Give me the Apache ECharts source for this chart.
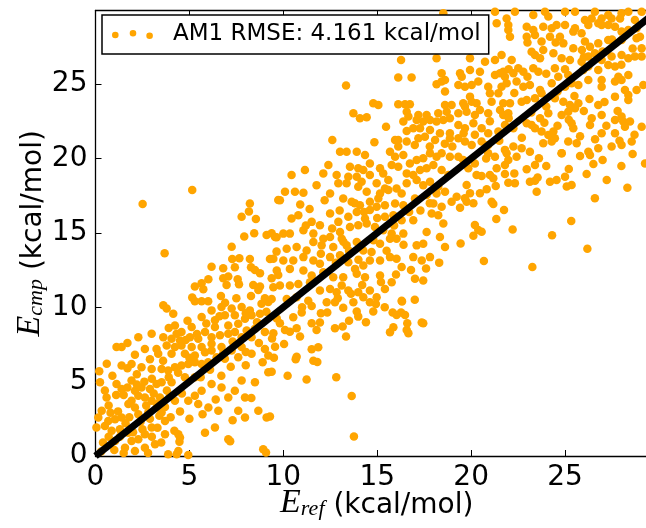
<!DOCTYPE html>
<html>
<head>
<meta charset="utf-8">
<script src="https://cdn.jsdelivr.net/npm/echarts@6/dist/echarts.min.js"></script>
<style>
  html, body { margin: 0; padding: 0; background: #fff; }
  #chart { width: 646px; height: 528px; }
</style>
</head>
<body>
<div id="chart"></div>
<script>
// axis setup
const axisMin = 0
const axisMax = 29.95
const tickStep = 5
const seriesName = 'AM1 RMSE: 4.161 kcal/mol'
const refLine = [[0, 0], [30, 30]]

// points, [E_ref, E_cmp], grouped by region
const lowPoints = [
  [3.61,10.13],[4.14,9.57],[3.79,9.91],[5.29,10.40],[5.65,10.40],[6.71,10.02],[7.25,9.91],[7.78,10.02],
  [8.22,9.79],[8.84,10.24],[9.20,10.36],[5.65,9.34],[6.18,9.79],[6.36,9.12],[6.89,9.46],[7.42,9.46],
  [7.96,9.23],[8.31,9.46],[8.76,9.57],[4.23,8.78],[4.58,8.33],[4.32,8.22],[5.12,8.67],[5.83,8.33],
  [6.36,8.67],[7.07,8.78],[7.60,8.89],[8.05,8.44],[8.49,8.56],[9.02,8.33],[2.28,7.99],[2.99,8.22],
  [3.61,7.99],[4.05,7.88],[4.50,7.77],[5.03,7.99],[5.47,7.88],[6.18,7.99],[6.63,8.11],[7.07,8.22],
  [7.42,8.33],[7.78,7.99],[8.31,7.99],[1.12,7.32],[1.39,7.32],[2.63,7.20],[3.25,7.20],[3.79,7.43],
  [4.23,7.32],[4.58,7.43],[5.12,7.32],[5.65,7.32],[6.18,7.54],[6.71,7.32],[7.25,7.09],[7.78,7.32],
  [3.34,6.87],[4.05,6.87],[4.76,6.87],[5.29,6.75],[5.83,6.98],[6.18,7.09],[6.45,6.64],[6.89,6.53],
  [7.60,6.64],[8.31,6.87],[9.02,7.20],[9.20,6.75],[1.39,6.08],[1.92,6.19],[2.45,5.97],[2.99,5.85],
  [3.52,5.85],[3.87,5.74],[4.23,5.97],[4.58,6.08],[4.94,6.19],[5.29,6.30],[5.65,6.19],[0.24,4.95],
  [0.59,3.94],[1.12,4.84],[1.39,4.50],[1.92,5.07],[2.10,4.39],[2.45,4.61],[2.90,4.50],[3.25,4.84],
  [3.52,4.95],[4.05,4.95],[4.76,5.29],[5.29,5.29],[2.28,4.05],[2.63,3.94],[2.99,3.71],[3.43,3.94],
  [3.96,4.05],[4.23,3.71],[1.92,3.71],[1.75,3.49],[0.33,3.04],[0.15,2.59],[0.68,2.36],[1.04,2.47],
  [1.39,2.59],[2.10,3.26],[2.28,2.81],[2.81,2.92],[3.25,3.26],[3.52,2.92],[3.70,2.36],[2.99,1.91],
  [2.63,1.46],[0.05,1.91],[0.50,2.02],[0.86,1.69],[1.30,1.80],[1.75,1.57],[1.92,1.01],[2.28,1.12],
  [1.04,1.01],[1.57,0.56],[2.10,0.34],[2.63,0.56],[3.17,0.79],[3.70,1.46],[3.87,0.11],[4.41,0.34],
  [1.20,3.00],[1.60,2.20],[2.40,2.30],[2.00,1.60],[2.90,2.50],[3.30,1.90],[3.00,1.30],[3.50,0.90],
  [1.00,0.40],[0.40,0.90],[0.80,2.90],[1.50,4.10],[2.70,3.40],[3.10,4.20],[3.70,3.30],[4.00,2.60],
  [4.50,3.00],[0.50,4.40],[2.20,5.50],[1.70,5.90],[3.00,5.20],[4.40,5.60],[0.90,5.40]
]

const lowFill = [
  [1.30,1.30],[1.80,2.60],[2.50,1.80],[3.40,2.70],[2.20,4.80],[3.80,4.40],[0.70,3.40],[1.10,4.10],
  [2.60,5.00],[3.90,5.30],[4.60,4.20],[4.20,1.70],[0.30,0.30],[0.70,1.30],[1.50,0.20],[2.80,0.20],
  [3.30,3.50],[1.70,4.60],[2.90,6.50],[3.60,6.40],[2.10,6.80],[4.80,7.80],[5.40,8.20],[3.90,8.60],
  [4.90,9.10],[6.00,10.40],[6.90,10.30],[7.50,10.60],[8.00,9.60],[8.60,9.00],[9.10,9.70],[6.60,9.40],
  [5.90,8.90],[5.00,6.60],[6.00,6.30],[6.80,6.90],[7.30,7.70],[8.00,7.00],[8.70,7.60],[9.40,7.90],
  [5.60,5.30],[6.10,5.80],[6.70,5.40],[7.20,6.00],[8.00,6.10],[8.90,6.30],[9.50,6.60],[6.40,3.80],
  [7.30,2.40],[8.30,3.90],[5.00,2.50],[5.70,2.80],[0.20,5.70],[0.60,6.20],[1.70,7.60]
]

const lowBelow = [
  [4.94,3.71],[5.47,3.49],[6.01,3.26],[5.29,4.05],[5.65,4.39],[6.18,4.84],[6.71,4.61],[7.07,3.94],
  [7.42,4.39],[7.78,5.07],[8.49,4.95],[7.96,3.94],[7.60,3.04],[8.67,3.04],[9.20,5.63],[9.11,2.59],
  [7.96,2.59],[6.54,3.04],[5.83,1.57],[6.36,1.91],[7.07,1.12],[8.93,0.45],[4.41,1.46],[4.50,1.24],
  [4.32,0.11],[4.94,0.07],[9.08,0.24],[7.17,1.00],[4.47,0.95]
]

const leftUpper = [
  [2.51,16.94],[5.15,17.88],[3.68,13.63],[8.22,16.98],[9.73,17.21],[7.78,16.09],[8.17,16.43],[8.54,15.93],
  [7.92,14.75],[8.45,14.97],[9.11,14.86],[9.38,14.97],[9.64,14.70],[7.25,14.07],[7.28,13.24],[7.66,13.29],
  [8.22,13.24],[9.29,13.24],[9.64,13.74],[6.18,12.73],[6.80,12.62],[7.42,12.69],[8.28,12.69],
  [8.49,12.51],[8.76,12.28],[6.80,11.95],[7.07,12.06],[7.57,11.88],[6.01,11.88],[6.98,11.50],[7.64,11.54],
  [5.29,11.39],[5.65,11.61],[5.74,11.21],[8.40,11.50],[8.76,11.39],[9.38,11.95],[9.73,12.17],
  [5.15,10.65],[6.68,10.76],[8.28,10.76],[8.67,11.16],[9.02,10.60]
]

const midLow = [
  [13.64,4.04],[13.76,1.31],[12.82,5.29],[11.24,5.14],[10.23,5.40],[9.29,2.65],[17.37,8.97],[17.45,8.92],
  [15.68,8.32],[15.86,8.65],[16.57,8.47],[16.66,8.25],[16.60,8.92],[15.82,9.64],[16.03,9.48],[16.27,9.64],
  [16.48,9.48],[14.79,9.71],[14.93,10.22],[16.32,10.38],[13.91,9.71],[13.99,9.37],[13.50,9.10],[13.19,9.97],
  [13.16,8.70],[13.34,8.03],[12.75,8.59],[12.34,9.64],[11.51,8.92],[11.95,8.97],[11.77,8.47],[11.51,7.17],
  [11.86,7.31],[11.60,6.41],[11.81,6.32],[10.66,6.50],[10.71,6.68],[10.04,7.53],[9.56,7.35],[9.38,5.67],
  [10.53,9.33],[10.89,8.03],[10.98,9.64],[11.51,10.09],[9.65,9.25],[9.82,8.92],[10.09,8.47],[10.35,8.36],
  [10.71,8.59],[9.47,8.25]
]

const midPoints = [
  [13.02,20.46],[13.37,20.46],[13.91,20.46],[14.35,20.23],[15.68,20.46],[15.95,20.12],[15.77,19.56],[16.39,20.23],
  [16.74,19.67],[17.10,19.90],[17.45,20.01],[17.81,20.35],[18.16,20.12],[18.43,20.35],[18.87,20.12],
  [12.40,19.56],[13.55,19.45],[13.99,19.34],[14.26,19.23],[14.61,19.67],[15.15,19.34],[15.32,19.00],[15.59,18.55],
  [16.12,19.45],[16.57,19.00],[16.92,18.89],[17.28,19.23],[17.63,19.34],[17.99,19.56],[18.43,19.23],[18.79,18.89],
  [10.44,18.89],[11.15,19.23],[12.13,19.00],[12.84,18.89],[13.46,18.78],[13.91,18.78],[14.17,18.44],[14.61,18.89],
  [14.97,18.33],[15.41,17.99],[16.03,17.99],[16.57,18.33],[17.10,18.55],[17.45,18.21],[17.81,18.44],[18.25,18.10],
  [10.09,17.76],[10.62,17.76],[11.07,17.70],[11.77,18.21],[12.49,17.65],[12.93,18.33],[13.37,18.33],[13.99,18.10],
  [14.44,17.76],[15.15,17.65],[15.59,17.88],[16.30,17.65],[17.01,17.31],[17.63,17.54],[18.16,17.65],[18.61,17.76],
  [18.96,17.09],[9.82,17.20],[13.19,17.31],[13.64,17.09],[14.08,16.86],[14.61,17.09],[15.06,17.31],[15.41,16.86],
  [15.95,16.98],[16.39,16.86],[17.99,16.98],[18.43,16.75],
  [10.44,15.96],[10.80,16.19],[11.51,15.74],[11.95,15.51],[12.49,16.30],[12.93,15.74],[13.46,16.08],[13.91,16.41],
  [14.35,15.96],[14.61,16.53],[14.97,16.75],[15.41,16.08],[15.86,16.19],[16.30,15.85],[16.92,15.85],[17.90,16.30],
  [18.25,16.19],[18.52,15.63],
  [10.00,14.95],[10.35,14.95],[11.07,15.17],[11.60,14.95],[12.13,14.61],[12.49,14.72],[13.02,15.06],[13.55,15.40],
  [13.99,15.51],[14.44,15.63],[14.88,15.40],[15.32,15.17],[15.77,14.95],[16.39,14.95],[17.63,15.06],[18.34,14.72],
  [9.56,14.72],[10.18,13.94],[10.71,14.05],[11.24,13.82],[11.60,14.39],[12.04,14.16],[12.66,14.05],[13.11,14.61],
  [13.37,14.16],[13.91,14.39],[14.26,13.82],[14.70,13.71],[15.15,14.27],[15.68,14.61],[16.03,14.61],[17.10,14.16],
  [17.45,14.27],[18.61,14.05],
  [9.47,13.26],[10.00,13.15],[10.53,13.15],[11.07,13.37],[11.60,13.15],[11.95,12.92],[12.49,13.37],[13.02,13.49],
  [13.46,13.03],[13.82,12.58],[14.26,12.81],[14.61,13.15],[15.15,13.15],[15.68,13.37],[16.03,13.26],[16.30,12.70],
  [16.92,13.37],[17.37,13.15],[17.81,13.37],
  [9.65,12.47],[10.35,12.58],[11.07,12.47],[11.51,12.13],[12.13,12.36],[12.66,12.02],[13.19,12.02],[13.91,12.25],
  [14.35,12.02],[15.15,12.13],[15.77,11.68],[17.01,11.91],[17.45,11.80],
  [9.47,11.35],[9.82,11.46],[10.35,11.46],[10.80,11.57],[11.42,11.68],[11.95,11.12],[12.49,11.23],[12.84,11.01],
  [13.11,11.46],[13.46,11.12],[13.99,11.01],[14.61,11.12],[14.97,10.67],[15.41,11.23],[16.30,10.44],[14.26,10.67],
  [9.38,10.56],[10.18,10.56],[10.71,10.67],[11.33,10.44],[12.31,10.33],[12.75,10.33],[14.61,10.33],[13.73,10.33]
]

const midFill = [
  [12.00,13.60],[12.80,13.00],[13.50,13.80],[14.00,13.20],[14.80,14.50],[15.50,13.80],[16.40,14.20],[13.00,16.50],
  [13.80,17.00],[14.30,16.40],[15.00,16.00],[15.90,15.50],[16.70,16.40],[17.30,16.50],[17.80,17.00],[12.20,17.20],
  [11.40,16.60],[10.90,16.90],[11.20,15.50],[12.60,15.30],[13.20,14.40],[11.00,10.00],[12.00,9.60],[12.90,10.60],
  [13.60,10.90],[14.20,11.50],[15.20,11.70],[16.00,12.20],[16.80,12.50],[17.60,12.60],[18.30,13.00],[15.40,10.00],
  [14.40,9.00],[17.00,10.50]
]

const midUpper = [
  [16.27,26.62],[16.12,25.44],[16.83,25.44],[18.16,26.74],[18.43,25.73],[18.16,24.99],[18.43,25.17],[18.61,25.28],
  [18.61,24.50],[13.34,24.90],[14.79,23.71],[15.06,23.60],[16.12,23.64],[16.48,23.64],[16.74,23.64],[18.61,23.60],
  [18.96,23.60],[13.73,23.04],[14.08,22.70],[14.44,22.77],[16.57,23.15],[16.66,22.82],[17.19,22.93],[17.63,22.93],
  [18.25,23.04],[18.70,23.15],[18.87,22.70],[16.39,22.48],[17.10,22.59],[17.45,22.48],[17.81,22.59],[18.16,22.48],
  [18.52,22.59],[15.47,22.14],[16.57,21.85],[16.92,22.03],[17.28,22.03],[17.81,21.92],[18.34,21.70],[18.87,21.70],
  [12.61,21.25],[14.85,21.09],[15.95,21.25],[16.12,21.25],[16.57,21.14],[17.19,21.36],[17.54,21.47],[18.08,21.25],
  [18.87,21.36],[18.52,29.76],[16.12,20.80],[17.00,20.90],[17.80,20.80],[18.60,21.00]
]

const rightMid = [
  [19.44,14.28],[20.68,13.11],[23.26,12.71],[26.19,13.94],[24.31,14.84],[25.33,15.80],[22.21,15.22],[21.34,15.93],
  [20.20,15.53],[20.38,15.19],[20.56,15.08],[20.12,14.81],[26.59,17.32],[28.32,18.04],[27.22,18.55],[26.15,18.96],
  [26.51,19.63],[26.33,20.23],[25.80,20.17],[24.82,20.35],[25.35,18.22],[25.00,18.78],[25.09,18.11],[24.20,18.44],
  [24.55,18.55],[23.13,18.44],[23.40,18.51],[23.54,18.73],[23.49,17.77],[22.96,19.27],[23.40,19.56],[23.61,20.01],
  [22.33,18.33],[21.98,18.37],[21.80,18.96],[21.31,18.15],[21.75,16.54],[21.09,17.10],[21.18,16.94],[19.76,17.10],
  [20.12,16.99],[19.41,16.69],[20.47,17.66],[20.83,17.93],[19.76,18.22],[20.29,18.89],[20.56,18.82],[21.00,18.89],
  [21.18,18.67],[21.36,19.34],[21.80,19.56],[21.98,19.90],[21.89,20.35],[22.42,20.12],[21.27,20.12],[20.91,20.35],
  [20.20,19.67],[19.85,19.34],[19.58,19.90],[19.32,20.12],[19.67,17.32],[19.23,17.43],[19.94,17.66],[29.26,19.67]
]

const rightUpper = [
  [21.27,29.87],[21.89,29.42],[22.33,29.87],[23.31,29.65],[23.93,29.87],[24.11,29.54],[25.00,29.87],[25.53,29.87],
  [26.06,29.31],[26.42,29.42],[26.59,29.87],[26.95,29.42],[27.30,29.65],[27.48,29.42],[27.93,29.42],[28.01,29.76],
  [28.37,29.87],[28.72,29.31],[29.08,29.87],
  [21.36,29.09],[21.98,28.98],[21.98,28.64],[22.96,28.86],[23.31,28.64],[23.40,28.30],[23.84,28.86],[24.29,28.75],
  [24.55,28.98],[25.00,28.98],[25.44,28.53],[25.53,28.75],[25.88,28.42],[26.24,28.98],[26.77,29.09],[26.95,28.98],
  [27.30,28.98],[27.66,28.86],[28.01,28.53],[28.37,28.64],[28.81,28.75],[28.99,28.19],
  [22.07,28.19],[22.96,28.19],[23.75,27.86],[24.20,28.19],[24.73,28.19],[24.91,27.74],[25.44,27.41],[26.06,27.86],
  [26.33,27.52],[26.77,27.74],[27.30,27.97],[27.66,27.74],[28.01,27.97],[28.81,28.08],[29.08,27.41],
  [19.94,26.74],[20.74,26.51],[21.27,26.62],[21.62,26.96],[22.16,26.62],[23.22,27.18],[23.40,26.96],[23.84,27.30],
  [24.38,27.07],[23.67,26.74],[24.82,26.74],[25.26,26.62],[25.88,26.51],[26.24,26.85],[26.59,27.07],[26.95,26.62],
  [27.48,26.85],[28.01,26.96],[28.37,26.74],[28.72,26.85],[29.08,26.85],
  [19.41,25.73],[19.50,25.50],[19.94,25.95],[20.47,25.84],[21.27,25.62],[21.54,25.73],[21.71,25.84],[21.80,25.50],
  [22.25,25.73],[22.51,26.06],[22.78,25.84],[23.31,26.06],[23.58,25.84],[24.46,26.06],[24.64,25.50],[25.17,25.62],
  [25.97,25.95],[26.24,26.18],[26.77,25.95],[27.30,26.29],[27.66,26.18],[27.84,25.50],[28.37,25.62],
  [19.32,24.94],[19.67,24.83],[20.03,24.94],[20.38,25.17],[20.91,24.83],[21.62,24.83],[21.89,25.06],[22.42,25.17],
  [22.78,24.83],[23.13,24.94],[23.67,24.61],[23.75,24.38],[24.29,25.06],[25.00,24.83],[25.35,25.06],[25.71,24.94],
  [26.24,25.28],[26.95,25.28],[26.95,24.83],[27.66,25.17],[28.01,25.28],[28.19,24.61],[28.81,24.61],[29.17,24.94],
  [19.58,23.71],[19.94,24.16],[20.03,23.82],[20.29,23.71],[21.00,24.38],[21.09,23.82],[21.45,24.38],[21.71,23.71],
  [22.07,23.71],[22.69,23.82],[22.96,23.94],[23.40,24.05],[24.46,24.05],[24.91,23.82],[25.26,23.60],[25.71,23.71],
  [26.77,23.60],[27.66,24.16],[28.37,24.27],[28.37,23.94],
  [19.32,23.04],[19.67,23.49],[19.76,23.15],[20.20,22.93],[20.47,23.26],[20.91,23.04],[21.54,23.26],[21.71,22.93],
  [21.98,23.04],[22.96,22.37],[23.22,22.26],[23.67,22.70],[24.11,23.04],[24.82,22.93],[25.17,23.15],[25.53,23.38],
  [26.42,22.70],[26.95,22.93],[27.66,22.59],[28.01,22.82],[28.10,22.48],[28.46,22.48],
  [19.32,22.26],[19.67,22.03],[20.12,22.37],[20.56,22.03],[20.91,21.70],[21.45,21.81],[21.80,22.26],[22.25,22.03],
  [23.40,22.03],[23.75,21.81],[24.11,21.58],[24.38,21.81],[25.44,22.03],[25.35,22.37],[26.33,22.26],[26.95,21.70],
  [27.66,21.70],[28.19,22.14],[29.08,22.14],
  [19.32,21.36],[19.67,21.14],[20.03,20.91],[20.56,21.14],[20.91,20.91],[21.80,20.58],[22.25,20.80],[22.69,20.69],
  [23.13,20.46],[23.84,21.02],[24.29,21.14],[24.46,21.36],[25.17,21.14],[25.62,21.02],[24.82,20.35],[26.24,20.46],
  [26.77,20.69],[27.48,20.80],[28.01,20.91],[28.55,21.14]
]

const highFill = [
  [19.00,20.80],[19.60,21.70],[20.20,21.60],[21.00,22.50],[21.50,21.20],[22.00,22.70],[22.70,21.40],[23.20,23.10],
  [23.90,22.40],[24.60,22.20],[25.20,22.60],[25.80,21.50],[26.60,21.30],[27.20,22.20],[27.90,21.20],[28.70,21.60],
  [24.00,23.50],[24.60,24.50],[25.50,24.20],[26.30,24.00],[27.10,23.80],[27.80,23.20],[26.00,23.20],[22.30,24.40],
  [22.00,26.00],[23.00,25.50],[24.00,25.70],[25.00,26.00],[26.00,26.80],[27.00,27.20],[28.00,26.30],[28.60,27.40],
  [27.50,28.00],[25.90,27.30],[24.50,27.80],[23.00,27.80],[20.80,20.00],[22.30,19.00],[24.00,19.50],[25.20,19.30],
  [27.00,19.90],[28.00,19.50],[28.60,20.30]
]

const points = [].concat(lowPoints, lowFill, lowBelow, leftUpper, midLow, midPoints, midFill,
  midUpper, rightMid, rightUpper, highFill)

const chart = echarts.init(document.getElementById('chart'))

const tickFont = { fontFamily: 'DejaVu Sans', fontSize: 28, color: '#000' }
const spine = { show: true, onZero: false, lineStyle: { color: '#000', width: 1.3 } }
const ticks = { show: true, inside: true, length: 6, lineStyle: { color: '#000', width: 1 } }
const nameRich = {
  e: { fontFamily: 'Liberation Serif', fontStyle: 'italic', fontSize: 34, lineHeight: 34, verticalAlign: 'bottom', color: '#000' },
  s: { fontFamily: 'Liberation Serif', fontStyle: 'italic', fontSize: 22, lineHeight: 12, verticalAlign: 'bottom', color: '#000' },
  t: { fontFamily: 'DejaVu Sans', fontSize: 28, lineHeight: 28, verticalAlign: 'bottom', color: '#000' }
}

const option = {
  animation: false,
  backgroundColor: '#fff',
  grid: {
    left: 95.5, top: 10.5, right: -12, bottom: 72,
    containLabel: false,
    outerBoundsMode: 'none'
  },
  legend: {
    left: 102,
    top: 15,
    selectedMode: false,
    data: [{
      name: seriesName,
      icon: 'path://M0,5a3.3,3.3 0 1,0 6.6,0a3.3,3.3 0 1,0 -6.6,0Z M17.7,3.3a3.3,3.3 0 1,0 6.6,0a3.3,3.3 0 1,0 -6.6,0Z M34.3,5.7a3.3,3.3 0 1,0 6.6,0a3.3,3.3 0 1,0 -6.6,0Z'
    }],
    itemWidth: 41,
    itemHeight: 9,
    padding: [8, 8, 8, 10],
    borderColor: '#000',
    borderWidth: 1.5,
    backgroundColor: '#fff',
    textStyle: { fontFamily: 'DejaVu Sans', fontSize: 23, color: '#000', padding: [0, 0, 0, 15] }
  },
  xAxis: [{
    type: 'value',
    min: axisMin,
    max: axisMax,
    interval: tickStep,
    axisLine: spine,
    axisTick: ticks,
    splitLine: { show: false },
    axisLabel: { ...tickFont, margin: 8, showMaxLabel: false },
    name: '{e|E}{s|ref}{t| (kcal/mol)}',
    nameLocation: 'middle',
    nameGap: 30,
    nameMoveOverlap: false,
    nameTextStyle: { rich: nameRich }
  }, {
    type: 'value',
    position: 'top',
    min: axisMin,
    max: axisMax,
    interval: tickStep,
    axisLine: spine,
    axisTick: ticks,
    splitLine: { show: false },
    axisLabel: { show: false }
  }],
  yAxis: {
    type: 'value',
    min: axisMin,
    max: axisMax,
    interval: tickStep,
    axisLine: spine,
    axisTick: ticks,
    splitLine: { show: false },
    axisLabel: { ...tickFont, margin: 8, showMaxLabel: false },
    name: '{e|E}{s|cmp}{t| (kcal/mol)}',
    nameLocation: 'middle',
    nameRotate: 90,
    nameGap: 48,
    nameMoveOverlap: false,
    nameTextStyle: { rich: nameRich }
  },
  series: [{
    name: seriesName,
    type: 'scatter',
    data: points,
    symbolSize: 8.5,
    itemStyle: { color: '#ffa500', opacity: 1 },
    z: 2
  }, {
    type: 'line',
    data: refLine,
    symbol: 'none',
    lineStyle: { color: '#000', width: 7 },
    z: 3,
    silent: true
  }]
}

chart.setOption(option)
window.addEventListener('resize', () => chart.resize())
</script>
</body>
</html>
